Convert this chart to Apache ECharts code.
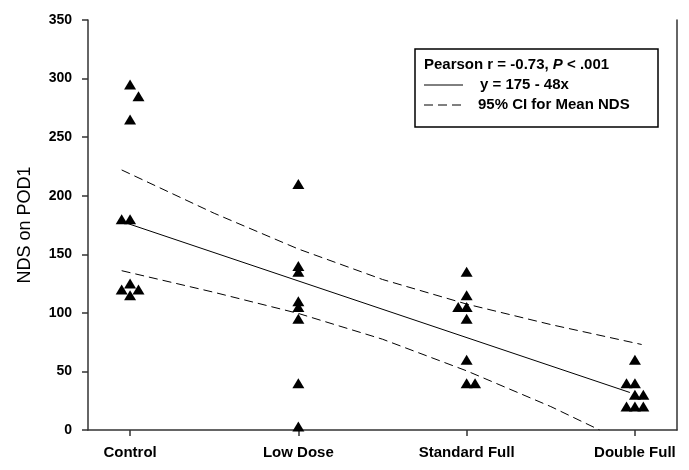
<!DOCTYPE html>
<html>
<head>
<meta charset="utf-8">
<script src="https://cdn.jsdelivr.net/npm/echarts@6/dist/echarts.min.js"></script>
<style>
  html, body { margin: 0; padding: 0; background: #fff; }
  #chart { width: 689px; height: 470px; }
</style>
</head>
<body>
<div id="chart"></div>
<script>
// groups on the x axis
const categories = ['Control', 'Low Dose', 'Standard Full', 'Double Full']
const yTicks = [0, 50, 100, 150, 200, 250, 300, 350]

// [jitter, NDS] pairs, one list per group
const controlNds = [[0, 295], [0.05, 285], [0, 265], [-0.05, 180], [0, 180], [0, 125], [-0.05, 120], [0.05, 120], [0, 115]]
const lowDoseNds = [[0, 210], [0, 140], [0, 135], [0, 110], [0, 105], [0, 95], [0, 40], [0, 3]]
const standardNds = [[0, 135], [0, 115], [-0.05, 105], [0, 105], [0, 95], [0, 60], [0, 40], [0.05, 40]]
const doubleNds = [[0, 60], [-0.05, 40], [0, 40], [0, 30], [0.05, 30], [-0.05, 20], [0, 20], [0.05, 20]]

// fitted line y = 175 - 48x and 95% CI for mean, read at a few x positions
const fitLine = [[-0.05, 178], [2.97, 32]]
const ciUpper = [[-0.05, 222], [0.5, 185], [1, 154.5], [1.5, 128.5], [2, 107.5], [2.5, 90], [3.04, 73]]
const ciLower = [[-0.05, 136], [0.5, 117.5], [1, 99.5], [1.5, 77.5], [2, 50.5], [2.5, 20], [2.79, 0]]

const font = '"Liberation Sans", Arial, sans-serif'

const groups = [controlNds, lowDoseNds, standardNds, doubleNds]
const points = []
groups.forEach((g, i) => {
  g.forEach(p => points.push([i + p[0], p[1]]))
})

const chart = echarts.init(document.getElementById('chart'))
chart.setOption({
  animation: false,
  backgroundColor: '#fff',
  grid: { left: 88, right: 12, top: 20, bottom: 40 },
  xAxis: {
    type: 'value',
    min: -0.25,
    max: 3.25,
    splitLine: { show: false },
    axisLine: { onZero: false, lineStyle: { color: '#333', width: 1.5 } },
    axisTick: {
      customValues: [0, 1, 2, 3],
      length: 6,
      lineStyle: { color: '#333', width: 1.5 }
    },
    axisLabel: {
      customValues: [0, 1, 2, 3],
      formatter: v => categories[Math.round(v)],
      color: '#000',
      fontFamily: font,
      fontWeight: 'bold',
      fontSize: 15,
      margin: 15
    }
  },
  yAxis: [{
    type: 'value',
    min: 0,
    max: 350,
    interval: 50,
    name: 'NDS on POD1',
    nameLocation: 'middle',
    nameGap: 54,
    nameTextStyle: { color: '#000', fontFamily: font, fontSize: 18 },
    splitLine: { show: false },
    axisLine: { show: true, onZero: false, lineStyle: { color: '#333', width: 1.5 } },
    axisTick: { show: true, length: 6, lineStyle: { color: '#333', width: 1.5 } },
    axisLabel: {
      formatter: v => (yTicks.indexOf(v) >= 0 ? String(v) : ''),
      color: '#000',
      fontFamily: font,
      fontWeight: 'bold',
      fontSize: 14,
      margin: 16
    }
  }, {
    type: 'value',
    position: 'right',
    min: 0,
    max: 350,
    splitLine: { show: false },
    axisLine: { show: true, onZero: false, lineStyle: { color: '#333', width: 1.5 } },
    axisTick: { show: false },
    axisLabel: { show: false }
  }],
  graphic: [
    {
      type: 'rect',
      shape: { x: 415, y: 49, width: 243, height: 78 },
      style: { fill: '#fff', stroke: '#000', lineWidth: 1.5 },
      z: 10
    },
    {
      type: 'text',
      x: 424, y: 57, z: 11,
      style: {
        text: '{b|Pearson r = -0.73, }{i|P}{b| < .001}',
        rich: {
          b: { fontFamily: font, fontWeight: 'bold', fontSize: 15, fill: '#000' },
          i: { fontFamily: font, fontWeight: 'bold', fontStyle: 'italic', fontSize: 15, fill: '#000' }
        }
      }
    },
    {
      type: 'line', z: 11,
      shape: { x1: 424, y1: 85, x2: 463, y2: 85 },
      style: { stroke: '#000', lineWidth: 1 }
    },
    {
      type: 'text', x: 480, y: 77, z: 11,
      style: { text: 'y = 175 - 48x', fontFamily: font, fontWeight: 'bold', fontSize: 15, fill: '#000' }
    },
    {
      type: 'line', z: 11,
      shape: { x1: 424, y1: 105, x2: 463, y2: 105 },
      style: { stroke: '#000', lineWidth: 1, lineDash: [9, 5] }
    },
    {
      type: 'text', x: 478, y: 97, z: 11,
      style: { text: '95% CI for Mean NDS', fontFamily: font, fontWeight: 'bold', fontSize: 15, fill: '#000' }
    }
  ],
  series: [
    {
      type: 'scatter',
      data: points,
      symbol: 'triangle',
      symbolSize: [12, 10],
      itemStyle: { color: '#000', opacity: 1 },
      clip: false,
      z: 5
    },
    {
      type: 'line',
      data: fitLine,
      symbol: 'none',
      lineStyle: { color: '#000', width: 1 },
      z: 3
    },
    {
      type: 'line',
      data: ciUpper,
      symbol: 'none',
      lineStyle: { color: '#000', width: 1, type: [9, 5] },
      z: 3
    },
    {
      type: 'line',
      data: ciLower,
      symbol: 'none',
      lineStyle: { color: '#000', width: 1, type: [9, 5] },
      z: 3
    }
  ]
})
</script>
</body>
</html>
